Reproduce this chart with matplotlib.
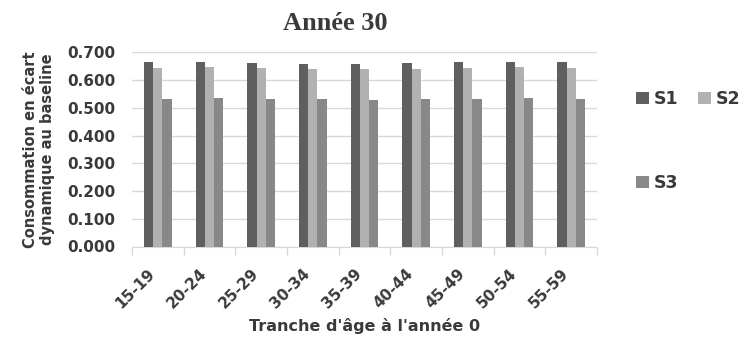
import numpy as np
import matplotlib
matplotlib.use("Agg")
import matplotlib.pyplot as plt
from matplotlib.ticker import FixedLocator

groups = ["15-19", "20-24", "25-29", "30-34", "35-39",
          "40-44", "45-49", "50-54", "55-59"]
s1 = [0.664, 0.664, 0.661, 0.659, 0.658, 0.660, 0.664, 0.664, 0.664]
s2 = [0.644, 0.646, 0.642, 0.640, 0.639, 0.640, 0.644, 0.646, 0.644]
s3 = [0.532, 0.535, 0.531, 0.530, 0.528, 0.530, 0.532, 0.534, 0.532]
series_names = ["S1", "S2", "S3"]
colors = ["#5f5f5f", "#b1b1b1", "#888888"]

txt = "#3a3a3a"
grid = "#d9d9d9"

fig = plt.figure(figsize=(7.43, 3.39), dpi=100)
ax = fig.add_axes([132 / 743, 1 - 246.5 / 339, 465 / 743, 194.2 / 339])

x = np.arange(len(groups))
w = 0.18
bars = []
for k, (vals, c) in enumerate(zip([s1, s2, s3], colors)):
    b = ax.bar(x + (k - 1) * w, vals, w, color=c, zorder=3,
               label=series_names[k])
    bars.append(b)

ax.set_xlim(-0.5, len(groups) - 0.5)
ax.set_ylim(0, 0.7)
ax.set_yticks(np.arange(0, 0.71, 0.1))
ax.set_yticklabels(["%.3f" % v for v in np.arange(0, 0.71, 0.1)])
ax.yaxis.grid(True, color=grid, lw=1.0, zorder=0)
ax.tick_params(axis="y", length=0, pad=12, labelsize=11, labelcolor=txt)
for lab in ax.get_yticklabels():
    lab.set_fontweight("bold")

ax.set_xticks(x)
ax.set_xticklabels(groups, rotation=45, ha="right", fontweight="bold",
                   fontsize=11, color=txt)
ax.xaxis.set_minor_locator(FixedLocator(np.arange(-0.5, len(groups), 1.0)))
ax.tick_params(axis="x", which="major", length=0, pad=14)
ax.tick_params(axis="x", which="minor", length=6, color=grid, width=1)

for s in ["top", "right", "left"]:
    ax.spines[s].set_visible(False)
ax.spines["bottom"].set_color(grid)

ax.set_ylabel("Consommation en écart\ndynamique au baseline",
              fontsize=10.5, fontweight="bold", color=txt, labelpad=9,
              linespacing=1.1)
ax.set_xlabel("Tranche d'âge à l'année 0", fontsize=11.5, fontweight="bold",
              color=txt, labelpad=5)

fig.text(335 / 743, 1 - 24 / 339, "Année 30", ha="center", va="center",
         fontsize=19, fontweight="bold", family="Liberation Serif", color=txt)

handles = [bars[0], bars[2], bars[1]]
labels = ["S1", "S3", "S2"]
leg = fig.legend(handles, labels, loc="upper left", ncol=2,
                 bbox_to_anchor=(636 / 743, 1 - 90 / 339),
                 frameon=False, borderpad=0, borderaxespad=0,
                 handlelength=0.75, handleheight=0.75, handletextpad=0.3,
                 labelspacing=3.8, columnspacing=1.1,
                 prop={"weight": "bold", "size": 12.5})
for t in leg.get_texts():
    t.set_color(txt)

fig.savefig("out.png", dpi=100)
